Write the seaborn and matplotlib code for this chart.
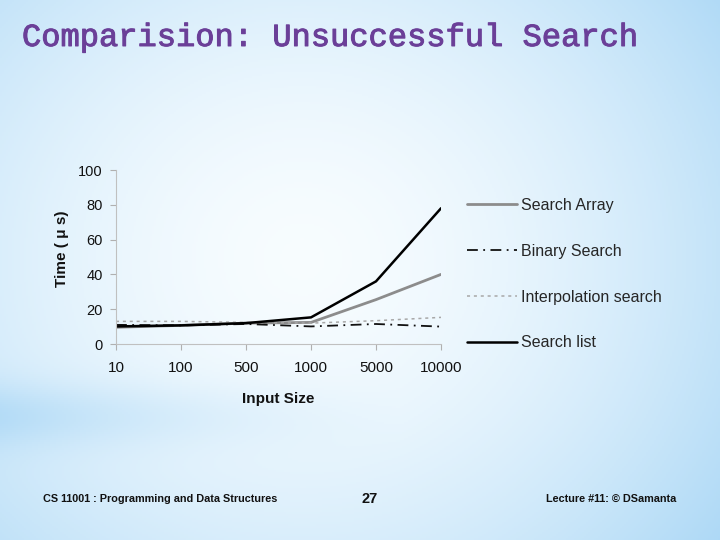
import numpy as np
import pandas as pd
import matplotlib
matplotlib.use("Agg")
import matplotlib.pyplot as plt
import matplotlib.patheffects as pe
import seaborn as sns

# ---- data ----
sizes = ["10", "100", "500", "1000", "5000", "10000"]
search_array = [9.6, 10.7, 12.0, 12.4, 25.5, 40.0]
binary_search = [11.0, 10.7, 11.5, 10.1, 11.5, 10.0]
interpolation_search = [13.0, 13.0, 12.4, 12.0, 13.4, 15.3]
search_list = [10.1, 10.7, 12.0, 15.3, 36.0, 78.0]
series_names = ["Search Array", "Binary Search", "Interpolation search", "Search list"]
y_ticks = [0, 20, 40, 60, 80, 100]

sns.set_theme(style="white")
plt.rcParams["font.family"] = ["Liberation Sans", "DejaVu Sans"]

fig = plt.figure(figsize=(7.2, 5.4), dpi=100)

# background gradient
bg = fig.add_axes([0, 0, 1, 1], zorder=-10)
H, W = 270, 360
yy, xx = np.mgrid[0:H, 0:W]
xn = xx / (W - 1)
yn = yy / (H - 1)
d = np.sqrt(((xn - 0.42) / 0.78) ** 2 + ((yn - 0.48) / 0.95) ** 2)
t = np.clip(d, 0, 1) ** 1.7
band = np.exp(-((yn - 0.77) / 0.06) ** 2) * np.clip(1 - xn * 1.8, 0, 1) * 0.35
t = np.clip(t + band, 0, 1)
c0 = np.array([0.97, 0.99, 1.0])
c1 = np.array([0.64, 0.83, 0.96])
img = c0[None, None, :] * (1 - t[..., None]) + c1[None, None, :] * t[..., None]
bg.imshow(img, aspect="auto", extent=[0, 1, 0, 1], origin="upper")
bg.set_axis_off()

ax = fig.add_axes([116 / 720, 1 - 344 / 540, 325 / 720, 174 / 540])
ax.patch.set_alpha(0)

pos = np.arange(len(sizes))
styles = [
    dict(color="#8c8c8c", linestyle="-", linewidth=2.0),
    dict(color="#111111", linestyle=(0, (6, 3, 1, 3)), linewidth=1.3),
    dict(color="#a8a8a8", linestyle=(0, (2, 2.5)), linewidth=1.1),
    dict(color="#000000", linestyle="-", linewidth=1.8),
]
for name, vals, st in zip(series_names,
                          [search_array, binary_search, interpolation_search, search_list],
                          styles):
    sns.lineplot(x=pos, y=vals, ax=ax, label=name, **st)

ax.set_xlim(0, len(sizes) - 1)
ax.set_ylim(0, 100)
ax.set_xticks(pos)
ax.set_xticklabels(sizes, fontsize=11, color="#111111")
ax.set_yticks(y_ticks)
ax.set_yticklabels([str(v) for v in y_ticks], fontsize=10.5, color="#111111")
ax.tick_params(axis="x", direction="out", length=4.5, width=0.8, color="#b0b0b0",
               bottom=True, pad=8)
ax.tick_params(axis="y", direction="out", length=4.5, width=0.8, color="#b0b0b0",
               left=True, pad=5)
for s in ["top", "right"]:
    ax.spines[s].set_visible(False)
for s in ["left", "bottom"]:
    ax.spines[s].set_color("#c0c0c0")
    ax.spines[s].set_linewidth(0.8)
ax.set_xlabel("Input Size", fontsize=11, fontweight="bold", labelpad=12, color="#111111")
ax.set_ylabel("Time ( \u03bc s)", fontsize=11, fontweight="bold", color="#111111")
ax.yaxis.set_label_coords(-0.145, 0.546)

leg = ax.legend(loc="upper left", bbox_to_anchor=(467 / 720, 1 - 198 / 540),
                bbox_transform=fig.transFigure, frameon=False, fontsize=11.5,
                handlelength=3.13, handletextpad=0.25, labelspacing=1.93,
                borderpad=0, borderaxespad=0)

fig.text(22 / 720, 1 - 38 / 540, "Comparision: Unsuccessful Search",
         fontsize=23.1, family="Liberation Mono", fontweight="normal",
         color="#6b3f98", va="center", ha="left",
         path_effects=[pe.withStroke(linewidth=0.7, foreground="#6b3f98")])

fig.text(43 / 720, 1 - 499 / 540, "CS 11001 : Programming and Data Structures",
         fontsize=7.8, fontweight="bold", va="center", ha="left", color="#111111")
fig.text(370 / 720, 1 - 499 / 540, "27", fontsize=10.5, fontweight="bold",
         va="center", ha="center", color="#111111")
fig.text(676 / 720, 1 - 499 / 540, "Lecture #11: \u00a9 DSamanta", fontsize=7.8,
         fontweight="bold", va="center", ha="right", color="#111111")

fig.savefig("out.png", dpi=100)
